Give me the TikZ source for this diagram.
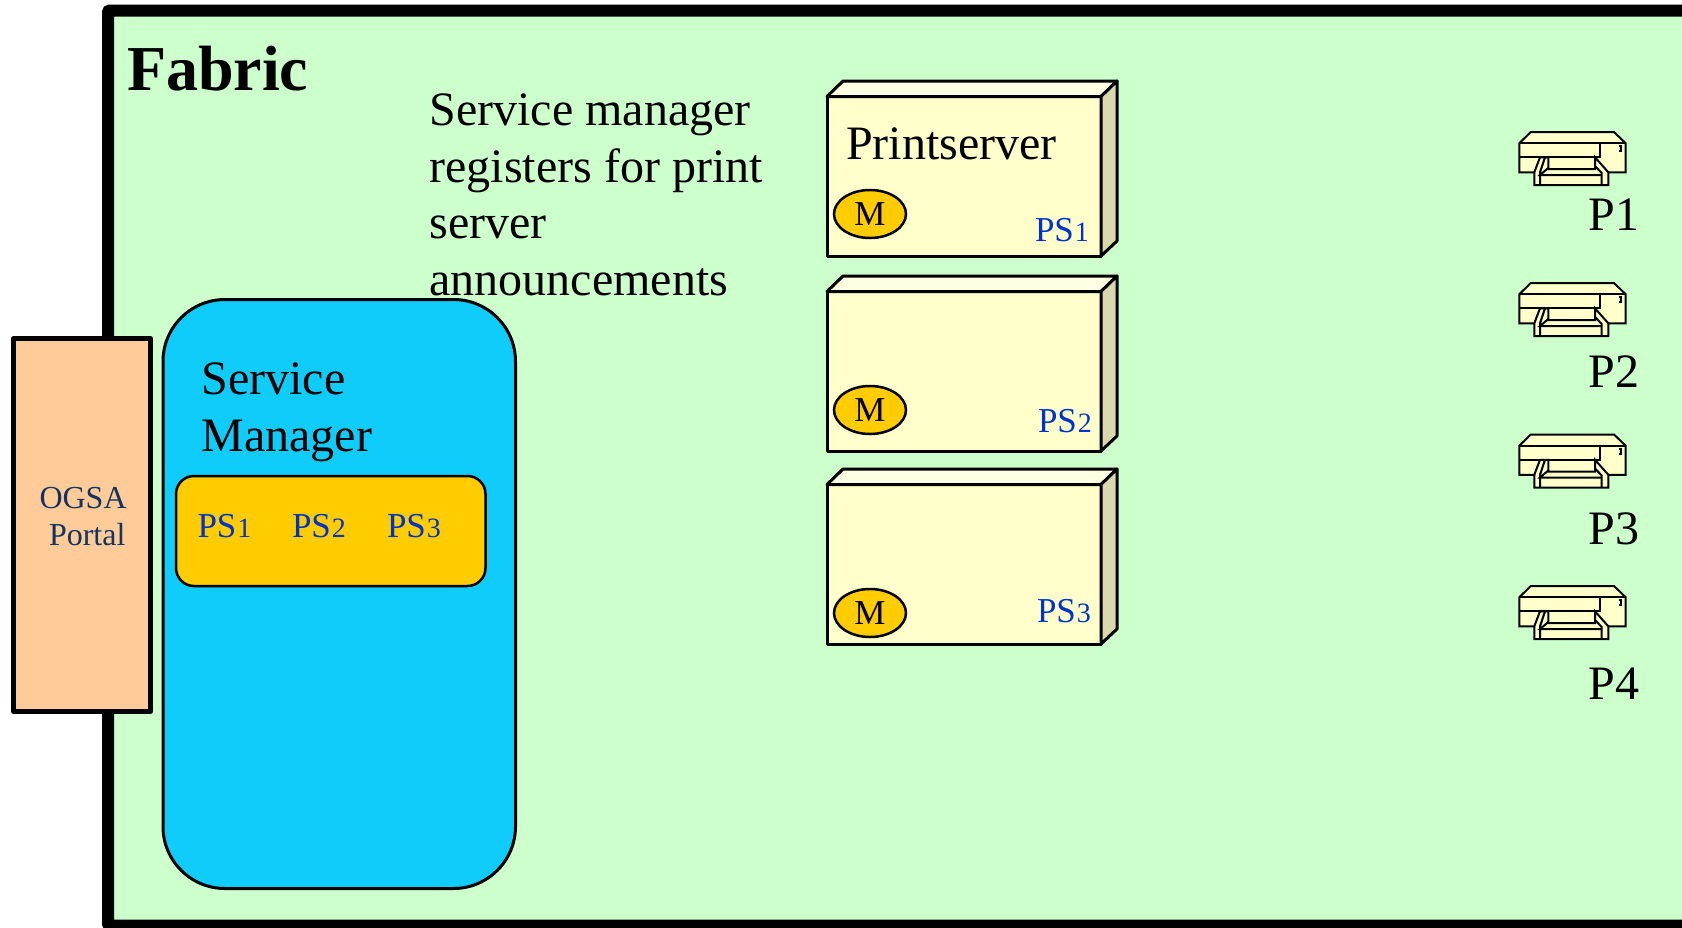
\documentclass[tikz,border=0pt]{standalone}
\usepackage{fontspec}
\setmainfont{Liberation Serif}
\usetikzlibrary{shapes.geometric}
\definecolor{fabricgreen}{HTML}{CCFFCC}
\definecolor{portalorange}{HTML}{FFCC99}
\definecolor{managerblue}{HTML}{10CCFB}
\definecolor{listyellow}{HTML}{FFCC00}
\definecolor{boxfront}{HTML}{FFFFCC}
\definecolor{boxtop}{HTML}{FFFFE3}
\definecolor{boxside}{HTML}{DAD9AE}
\definecolor{psblue}{HTML}{0033CC}
\definecolor{portaltext}{HTML}{14335F}
\newcommand{\psname}[1]{PS\kern1pt{\fontsize{28}{28}\selectfont #1}}

\begin{document}
\begin{tikzpicture}[x=1pt, y=-1pt,% styles used in image code
txt/.style = {anchor=base west, inner sep=0pt, outer sep=0pt,
              font=\fontsize{48}{56.5}\selectfont},
pslabel/.style = {txt, text=psblue, font=\fontsize{35}{35}\selectfont},
portallabel/.style = {txt, text=portaltext, font=\fontsize{32}{32}\selectfont},
mark circle/.style = {ellipse, draw, line width=2.5pt, fill=listyellow,
              minimum width=72pt, minimum height=48pt, inner sep=0pt,
              font=\fontsize{35}{35}\selectfont},
box edge/.style = {draw, line width=3pt, line join=round},
printer/.style = {draw, line width=2pt, line join=miter, fill=boxfront}
                        ]
	\useasboundingbox (0,0) rectangle (1682,927);
	\clip (0,0) rectangle (1682,927);

	% fabric frame
	\draw[line width=12pt, fill=fabricgreen, rounded corners=2pt] (108,10.5) rectangle (1720,925.5);
	\node[txt, font=\fontsize{64}{64}\selectfont\bfseries] (fabric) at (127,90) {Fabric};
	\node[txt, align=left, anchor=north west] (note) at (429.5,94) {Service manager\\registers for print\\server\\announcements};

	% portal and manager
	\draw[line width=5pt, line join=round, fill=portalorange] (13.5,338.5) rectangle (150.5,711.5);
	\node[portallabel] (ogsa) at (39.5,508) {OGSA};
	\node[portallabel] (portal) at (49,545) {Portal};
	\draw[line width=3pt, fill=managerblue, rounded corners=62pt] (163,299.5) rectangle (515.5,888.5);
	\node[txt, align=left, anchor=north west] (manager) at (201.5,363) {Service\\Manager};
	\draw[line width=2.5pt, fill=listyellow, rounded corners=18pt] (176,476) rectangle (485.5,586);
	\node[pslabel] (list1) at (197.5,537) {\psname{1}};
	\node[pslabel] (list2) at (292,537) {\psname{2}};
	\node[pslabel] (list3) at (387,537) {\psname{3}};

	% print server boxes
	\foreach \n/\y/\my/\lx/\ly in {1/81/214/1035/241, 2/276/410/1038/432, 3/469/613/1037/622}
	{
	\draw[box edge, fill=boxfront] (827,\y+15.5) rectangle (1101,\y+175);
	\draw[box edge, fill=boxtop] (827,\y+15.5) -- (843,\y) -- (1117,\y) -- (1101,\y+15.5) -- cycle;
	\draw[box edge, fill=boxside] (1101,\y+15.5) -- (1117,\y) -- (1117,\y+160) -- (1101,\y+175) -- cycle;
	\node[mark circle] (m\n) at (870,\my) {M};
	\node[pslabel] (ps\n) at (\lx,\ly) {\psname{\n}};
	}
	\node[txt] (printserver) at (846,159) {Printserver};

	% printers
	\foreach \n/\y/\ly in {1/110/230, 2/261/387, 3/412.5/544, 4/564/699}
	{
	\begin{scope}[shift={(1490,\y)}]
	\draw[printer] (29.3,33.3) -- (40.7,22) -- (124,22) -- (135.7,33.3) -- (135.7,62.3) -- (29.3,62.3) -- cycle;
	\draw[printer, fill=none] (29.3,33.3) -- (135.7,33.3);
	\draw[printer, fill=none] (29.3,47.3) -- (110.3,47.3) -- (110.3,33.3);
	\draw[printer, fill=none] (129,36) -- (131,36) -- (131,41) -- (129,41);
	\draw[printer] (50,47.3) -- (44.3,62.3) -- (44.3,75) -- (118.3,75) -- (118.3,62.3) -- (105,47.3) -- (105,59) -- (58.3,59) -- (58.3,47.3) -- cycle;
	\draw[printer, fill=none] (55,47.3) -- (50,62.3) -- (50,75);
	\draw[printer, fill=none] (105,56) -- (111.7,63) -- (111.7,75);
	\draw[printer, fill=none] (58.3,58) -- (50,65) -- (111.7,65);
	\end{scope}
	\node[txt] (p\n) at (1588.5,\ly) {P\n};
	}
\end{tikzpicture}
\end{document}
